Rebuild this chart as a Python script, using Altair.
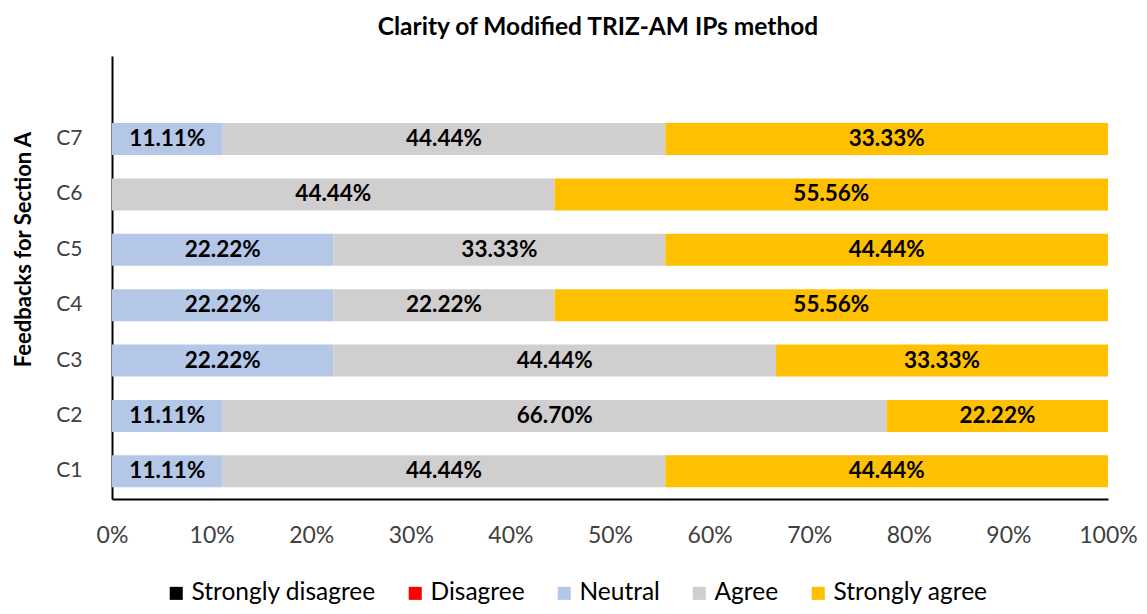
import altair as alt
import pandas as pd

categories = ["C1", "C2", "C3", "C4", "C5", "C6", "C7"]
responses = ["Strongly disagree", "Disagree", "Neutral", "Agree", "Strongly agree"]
# segment sizes as drawn (percent)
strongly_disagree = [0, 0, 0, 0, 0, 0, 0]
disagree = [0, 0, 0, 0, 0, 0, 0]
neutral = [11.11, 11.11, 22.22, 22.22, 22.22, 0, 11.11]
agree = [44.44, 66.70, 44.44, 22.22, 33.33, 44.44, 44.44]
strongly_agree = [44.44, 22.22, 33.33, 55.56, 44.44, 55.56, 44.44]
# data labels as printed on the chart
strongly_agree_labels = ["44.44%", "22.22%", "33.33%", "55.56%", "44.44%", "55.56%", "33.33%"]
colors = ["#000000", "#FF0000", "#B4C7E7", "#D0CECE", "#FFC000"]

series = [strongly_disagree, disagree, neutral, agree, strongly_agree]
rows = []
for r_i, (resp, vals) in enumerate(zip(responses, series)):
    for c_i, (c, v) in enumerate(zip(categories, vals)):
        lab = strongly_agree_labels[c_i] if resp == "Strongly agree" else f"{v:.2f}%"
        rows.append({"cat": c, "resp": resp, "order": r_i, "value": v, "label": lab})
df = pd.DataFrame(rows)

FONT = "Lato"
y_domain = [" "] + categories[::-1]

base = alt.Chart(df).transform_filter("datum.value > 0").transform_stack(
    stack="value", groupby=["cat"], as_=["s0", "s1"],
    sort=[alt.SortField("order", order="ascending")], offset="normalize"
).transform_calculate(mid="(datum.s0 + datum.s1) / 2")

y_enc = alt.Y("cat:N", scale=alt.Scale(domain=y_domain, paddingInner=0.42, paddingOuter=0.21),
              axis=alt.Axis(title="Feedbacks for Section A", titleFont=FONT, titleFontSize=22,
                            titleFontWeight="bold", titleColor="#000000", titlePadding=20,
                            titleY=193,
                            labelFont=FONT, labelFontSize=21, labelColor="#404040",
                            labelPadding=30, ticks=False, domainColor="#000000",
                            domainWidth=2))

bars = base.mark_bar().encode(
    x=alt.X("s0:Q", scale=alt.Scale(domain=[0, 1]),
            axis=alt.Axis(format="%", values=[i / 10 for i in range(11)], title=None,
                          labelFont=FONT, labelFontSize=23, labelColor="#404040",
                          labelFlush=False, labelOverlap=False,
                          labelPadding=25, ticks=False, grid=False, domainColor="#000000",
                          domainWidth=2)),
    x2="s1:Q",
    y=y_enc,
    color=alt.Color("resp:N", scale=alt.Scale(domain=responses, range=colors),
                    legend=alt.Legend(title=None, orient="none", direction="horizontal",
                                      legendX=52, legendY=525, padding=0, symbolType="square",
                                      symbolSize=170, symbolStrokeWidth=0, labelLimit=400,
                                      labelFont=FONT, labelFontSize=24.5, labelColor="#000000",
                                      columnPadding=27, labelOffset=3)),
)

texts = base.mark_text(font=FONT, fontSize=22.5, fontWeight="bold", color="#000000").encode(
    x=alt.X("mid:Q"),
    y=alt.Y("cat:N", scale=alt.Scale(domain=y_domain)),
    text="label:N",
)

chart = alt.layer(bars, texts).properties(
    width=996, height=443,
    title=alt.TitleParams("Clarity of Modified TRIZ-AM IPs method", font=FONT, fontSize=24.5,
                          fontWeight="bold", color="#000000", dx=-12, offset=16),
    autosize=alt.AutoSizeParams(type="none"),
    padding={"left": 104, "top": 48, "right": 31, "bottom": 107},
    background="white",
).configure_view(stroke=None)

chart.save("out.html", embed_options={"renderer": "svg", "actions": False})
